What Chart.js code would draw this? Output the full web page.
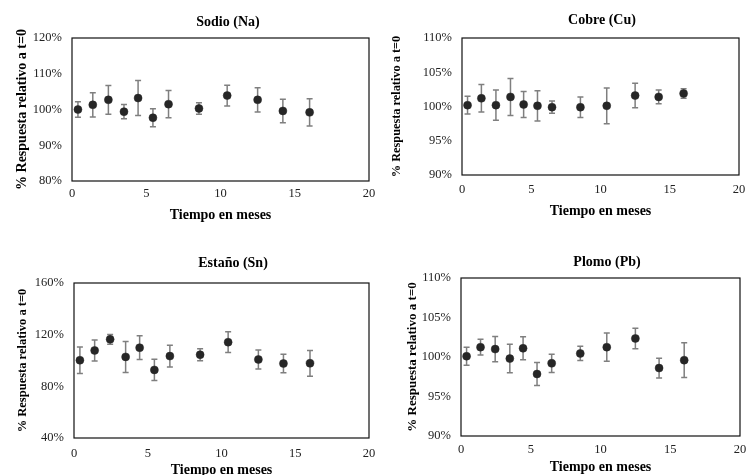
<!DOCTYPE html>
<html>
<head>
<meta charset="utf-8">
<script src="https://cdn.jsdelivr.net/npm/chart.js@4.4.1/dist/chart.umd.min.js"></script>
<style>
  html, body { margin: 0; padding: 0; background: #fff; overflow: hidden; }
  #wrap { position: relative; width: 746px; height: 475px; overflow: hidden; }
  canvas { position: absolute; }
</style>
</head>
<body>
<div id="wrap">
  <canvas id="naChart" width="400" height="260" style="left:0px;top:0px"></canvas>
  <canvas id="cuChart" width="400" height="260" style="left:373px;top:0px"></canvas>
  <canvas id="snChart" width="400" height="260" style="left:0px;top:237px"></canvas>
  <canvas id="pbChart" width="400" height="260" style="left:373px;top:237px"></canvas>
</div>
<script>
// tiempo (meses) de cada medida
var meses = [0.4, 1.4, 2.45, 3.5, 4.45, 5.45, 6.5, 8.55, 10.45, 12.5, 14.2, 16.0];
var xTicks = [0, 5, 10, 15, 20];

// Sodio
var naValores = [100.0, 101.3, 102.7, 99.4, 103.2, 97.7, 101.5, 100.3, 103.9, 102.7, 99.6, 99.2];
var naError = [2.2, 3.4, 4.0, 2.0, 4.9, 2.5, 3.8, 1.6, 2.9, 3.4, 3.3, 3.8];
var naTicks = [80, 90, 100, 110, 120];

// Cobre
var cuValores = [100.2, 101.2, 100.2, 101.4, 100.3, 100.1, 99.9, 99.9, 100.1, 101.6, 101.4, 101.9];
var cuError = [1.3, 2.0, 2.2, 2.7, 1.9, 2.2, 0.9, 1.5, 2.6, 1.8, 1.0, 0.7];
var cuTicks = [90, 95, 100, 105, 110];

// Estaño
var snValores = [100.2, 107.8, 116.4, 102.8, 109.9, 92.7, 103.4, 104.5, 114.2, 100.8, 97.7, 97.8];
var snError = [10.2, 8.1, 3.8, 12.0, 9.2, 8.2, 8.4, 4.6, 8.0, 7.3, 7.1, 9.9];
var snTicks = [40, 80, 120, 160];

// Plomo
var pbValores = [100.1, 101.25, 101.0, 99.8, 101.1, 97.85, 99.2, 100.45, 101.25, 102.35, 98.6, 99.6];
var pbError = [1.15, 1.0, 1.6, 1.8, 1.45, 1.45, 1.15, 0.9, 1.8, 1.3, 1.25, 2.2];
var pbTicks = [90, 95, 100, 105, 110];

var serif = '"Liberation Serif", "Times New Roman", serif';

// barras de error, dibujadas con la escala y antes de los puntos
var errorBars = {
  id: 'errorBars',
  beforeDatasetsDraw: function (chart, args, opts) {
    var ctx = chart.ctx;
    var meta = chart.getDatasetMeta(0);
    var yScale = chart.scales.y;
    var vals = chart.data.datasets[0].data;
    ctx.save();
    ctx.strokeStyle = '#7f7f7f';
    ctx.lineWidth = 1.5;
    meta.data.forEach(function (pt, i) {
      var v = vals[i].y, e = opts.errors[i];
      var yTop = yScale.getPixelForValue(v + e);
      var yBot = yScale.getPixelForValue(v - e);
      ctx.beginPath();
      ctx.moveTo(pt.x, yTop); ctx.lineTo(pt.x, yBot);
      ctx.moveTo(pt.x - 3, yTop); ctx.lineTo(pt.x + 3, yTop);
      ctx.moveTo(pt.x - 3, yBot); ctx.lineTo(pt.x + 3, yBot);
      ctx.stroke();
    });
    ctx.restore();
  }
};

// marco del area de trazado
var frame = {
  id: 'frame',
  afterDraw: function (chart) {
    var a = chart.chartArea, ctx = chart.ctx;
    ctx.save();
    ctx.strokeStyle = '#111';
    ctx.lineWidth = 1.2;
    ctx.strokeRect(a.left, a.top, a.right - a.left, a.bottom - a.top);
    ctx.restore();
  }
};

// titulo de cada panel
var panelTitle = {
  id: 'panelTitle',
  afterDraw: function (chart, args, opts) {
    var ctx = chart.ctx;
    ctx.save();
    ctx.font = 'bold 14px ' + serif;
    ctx.fillStyle = '#000';
    ctx.textAlign = 'center';
    ctx.textBaseline = 'middle';
    ctx.fillText(opts.text, opts.x, opts.y);
    ctx.restore();
  }
};

function makePanel(id, titulo, valores, errores, yTicks, g) {
  var W = 400, H = 260;
  var pts = meses.map(function (m, i) { return { x: m, y: valores[i] }; });
  new Chart(document.getElementById(id), {
    type: 'scatter',
    data: {
      datasets: [{
        data: pts,
        backgroundColor: '#262626',
        borderColor: '#262626',
        pointRadius: 4,
        pointBorderWidth: 0.5,
        showLine: false
      }]
    },
    options: {
      responsive: false,
      animation: false,
      events: [],
      layout: { padding: { left: 0, right: W - g.R, top: g.T, bottom: 0 } },
      plugins: {
        legend: { display: false },
        tooltip: { enabled: false },
        errorBars: { errors: errores },
        panelTitle: { text: titulo, x: g.titleX, y: g.titleY }
      },
      scales: {
        x: {
          type: 'linear',
          min: xTicks[0],
          max: xTicks[xTicks.length - 1],
          afterBuildTicks: function (s) { s.ticks = xTicks.map(function (v) { return { value: v }; }); },
          afterFit: function (s) { s.height = H - g.B; },
          grid: { display: false, drawTicks: false },
          border: { display: false },
          ticks: {
            font: { family: serif, size: 12.5 },
            color: '#222',
            padding: g.xTickY - g.B - 7.5,
            maxRotation: 0
          },
          title: {
            display: true,
            text: 'Tiempo en meses',
            font: { family: serif, size: 14, weight: 'bold' },
            color: '#000',
            padding: { top: 0, bottom: H - g.xTitleY - 8.4 }
          }
        },
        y: {
          min: yTicks[0],
          max: yTicks[yTicks.length - 1],
          afterBuildTicks: function (s) { s.ticks = yTicks.map(function (v) { return { value: v }; }); },
          afterFit: function (s) { s.width = g.L; },
          grid: { display: false, drawTicks: false },
          border: { display: false },
          ticks: {
            font: { family: serif, size: 12.5 },
            color: '#222',
            padding: 10,
            callback: function (v) { return v + '%'; }
          },
          title: {
            display: true,
            text: '% Respuesta relativo a t=0',
            font: { family: serif, size: g.yTitleSize, weight: 'bold' },
            color: '#000',
            padding: { top: g.yTitleX - g.yTitleSize * 0.6, bottom: 0 }
          }
        }
      }
    },
    plugins: [errorBars, frame, panelTitle]
  });
}

makePanel('naChart', 'Sodio (Na)', naValores, naError, naTicks,
  { L: 72, R: 369, T: 38, B: 181, titleX: 228, titleY: 22, yTitleX: 22, yTitleSize: 14, xTickY: 194, xTitleY: 215 });
makePanel('cuChart', 'Cobre (Cu)', cuValores, cuError, cuTicks,
  { L: 89, R: 366, T: 38, B: 175, titleX: 229, titleY: 20, yTitleX: 24, yTitleSize: 12.3, xTickY: 190, xTitleY: 211 });
makePanel('snChart', 'Estaño (Sn)', snValores, snError, snTicks,
  { L: 74, R: 369, T: 46, B: 201, titleX: 233, titleY: 26, yTitleX: 23, yTitleSize: 12.5, xTickY: 217, xTitleY: 233 });
makePanel('pbChart', 'Plomo (Pb)', pbValores, pbError, pbTicks,
  { L: 88, R: 367, T: 41, B: 199, titleX: 234, titleY: 25, yTitleX: 40, yTitleSize: 13, xTickY: 213, xTitleY: 230 });
</script>
</body>
</html>
